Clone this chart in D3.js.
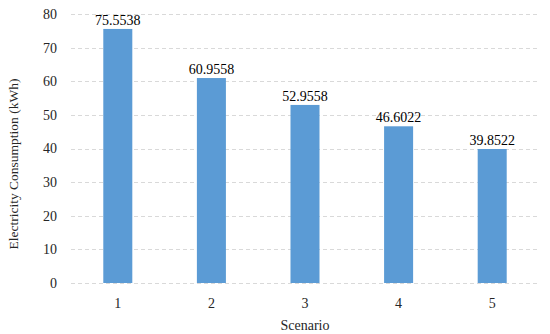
<!DOCTYPE html>
<html>
<head>
<meta charset="utf-8">
<script src="https://cdn.jsdelivr.net/npm/d3@7"></script>
<style>
  body { margin: 0; background: #fff; }
</style>
</head>
<body>
<div id="chart"></div>
<script>
//categories on the x axis
var scenarios = ["1", "2", "3", "4", "5"];
//electricity consumption per scenario (kWh)
var consumption = [75.5538, 60.9558, 52.9558, 46.6022, 39.8522];
//y axis ticks
var yTicks = [0, 10, 20, 30, 40, 50, 60, 70, 80];

var WIDTH = 550, HEIGHT = 334;
//plot area edges (note: "top" is taken by window.top)
var PLOT_LEFT = 71, PLOT_RIGHT = 539, PLOT_TOP = 14, PLOT_BOTTOM = 283;
var FONT = "'Liberation Serif', 'Times New Roman', Times, serif";

var svg = d3.select("#chart").append("svg")
  .attr("width", WIDTH)
  .attr("height", HEIGHT)
  .attr("font-family", FONT)
  .style("font-family", FONT);

var x = d3.scaleBand()
  .domain(scenarios)
  .range([PLOT_LEFT, PLOT_RIGHT])
  .paddingInner(0.69)
  .paddingOuter(0.345);

var y = d3.scaleLinear()
  .domain([0, 80])
  .range([PLOT_BOTTOM, PLOT_TOP]);

//gridlines
svg.selectAll("line.grid")
  .data(yTicks)
  .enter()
  .append("line")
  .attr("class", "grid")
  .attr("x1", PLOT_LEFT)
  .attr("x2", PLOT_RIGHT)
  .attr("y1", d => Math.round(y(d)) + 0.5)
  .attr("y2", d => Math.round(y(d)) + 0.5)
  .attr("stroke", "#d9d9d9")
  .attr("stroke-width", 1)
  .attr("stroke-dasharray", "4,3");

//y tick labels
svg.selectAll("text.ytick")
  .data(yTicks)
  .enter()
  .append("text")
  .attr("class", "ytick")
  .attr("x", 57)
  .attr("y", d => y(d))
  .attr("dy", "0.35em")
  .attr("text-anchor", "end")
  .attr("font-size", 14)
  .attr("fill", "#262626")
  .text(d => d);

//bars
svg.selectAll("rect.bar")
  .data(consumption)
  .enter()
  .append("rect")
  .attr("class", "bar")
  .attr("x", (d, i) => x(scenarios[i]))
  .attr("width", x.bandwidth())
  .attr("y", d => y(d))
  .attr("height", d => y(0) - y(d))
  .attr("fill", "#5b9bd5");

//value labels
svg.selectAll("text.val")
  .data(consumption)
  .enter()
  .append("text")
  .attr("class", "val")
  .attr("x", (d, i) => x(scenarios[i]) + x.bandwidth() / 2)
  .attr("y", d => y(d) - 4)
  .attr("text-anchor", "middle")
  .attr("font-size", 14)
  .attr("fill", "#000")
  .text(d => d.toFixed(4));

//x tick labels
svg.selectAll("text.xtick")
  .data(scenarios)
  .enter()
  .append("text")
  .attr("class", "xtick")
  .attr("x", d => x(d) + x.bandwidth() / 2)
  .attr("y", 308)
  .attr("text-anchor", "middle")
  .attr("font-size", 14)
  .attr("fill", "#262626")
  .text(d => d);

//axis titles
svg.append("text")
  .attr("x", (PLOT_LEFT + PLOT_RIGHT) / 2)
  .attr("y", 330)
  .attr("text-anchor", "middle")
  .attr("font-size", 14)
  .attr("fill", "#262626")
  .text("Scenario");

svg.append("text")
  .attr("transform", "translate(18,164) rotate(-90)")
  .attr("text-anchor", "middle")
  .attr("font-size", 13.5)
  .attr("fill", "#262626")
  .text("Electricity Consumption (kWh)");
</script>
</body>
</html>
